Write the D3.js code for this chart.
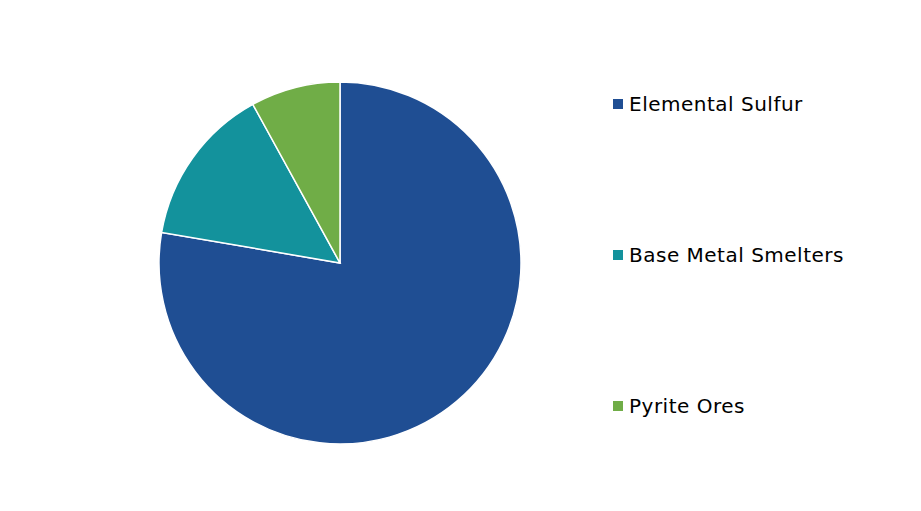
<!DOCTYPE html>
<html><head><meta charset="utf-8">
<script src="https://cdn.jsdelivr.net/npm/d3@7"></script>
<style>body{margin:0;background:#fff;}svg{display:block;}</style>
</head><body>
<svg id="chart" width="921" height="511"></svg>
<script>
const categories = ["Elemental Sulfur", "Base Metal Smelters", "Pyrite Ores"];
const values = [77.7, 14.3, 8.0];
const colors = ["#1F4E93", "#13929C", "#70AD47"];

const svg = d3.select("#chart");
svg.append("rect").attr("width",921).attr("height",511).attr("fill","#fff");
const cx = 340, cy = 263, r = 181;
const pie = d3.pie().sort(null).value(d => d)(values);
const arc = d3.arc().innerRadius(0).outerRadius(r);
const g = svg.append("g").attr("transform",`translate(${cx},${cy})`);
g.selectAll("path").data(pie).join("path")
  .attr("d", arc)
  .attr("fill", (d,i) => colors[i])
  .attr("stroke","#fff").attr("stroke-width",1.5);

const color = d3.scaleOrdinal().domain(categories).range(colors);
const ly = d3.scalePoint().domain(categories).range([104, 406]);
const lg = svg.append("g");
const items = lg.selectAll("g").data(categories).join("g")
  .attr("transform", d => `translate(613,${ly(d)})`);
items.append("rect").attr("x",0).attr("y",-5).attr("width",10).attr("height",10).attr("fill", d => color(d));
items.append("text").attr("x",16).attr("y",0).attr("dy","0.35em")
  .attr("font-family","Verdana, 'DejaVu Sans', sans-serif").attr("font-size",20)
  .attr("letter-spacing","0.5px").attr("fill","#000")
  .text(d => d);
</script>
</body></html>
